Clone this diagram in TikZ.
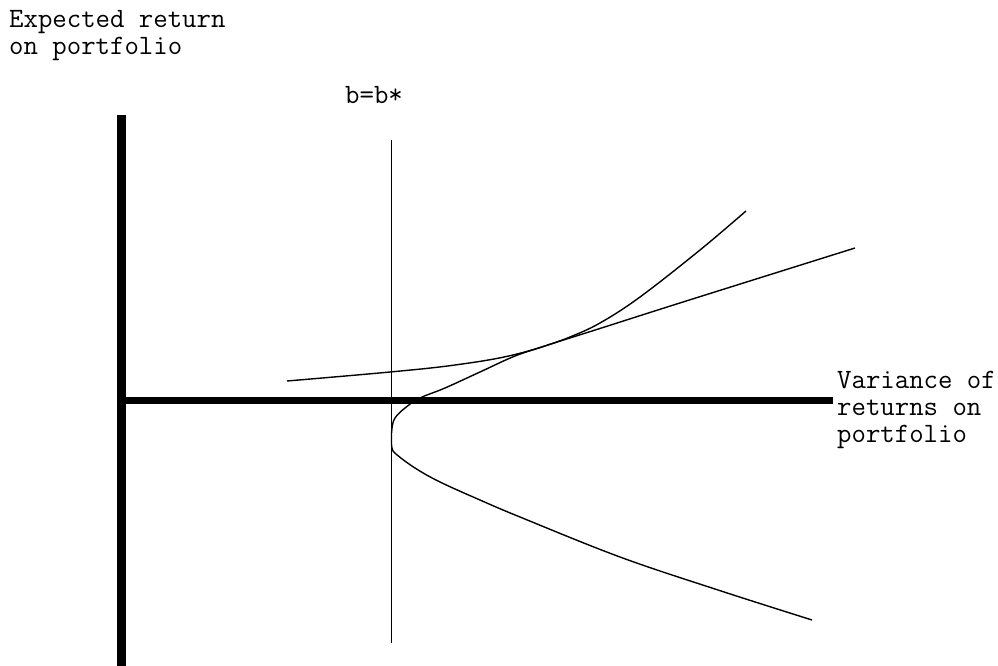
\documentclass[tikz,border=0pt]{standalone}
\usepackage{fontspec}
\begin{document}
\begin{tikzpicture}[x=1pt,y=-1pt,
  lbl/.style={font=\ttfamily\fontsize{28}{27}\selectfont, inner sep=0pt, align=left, anchor=base west},
  axis/.style={line width=8pt, line cap=butt},
  thin/.style={line width=1.5pt},
  crv/.style={line width=1.4pt, smooth, tension=0.6}]
\useasboundingbox (0,0) rectangle (998,666);
\fill[white] (0,0) rectangle (998,666);
% axes
\coordinate (ytop) at (121,115);
\coordinate (ybot) at (121,666);
\coordinate (xl) at (117,400);
\coordinate (xr) at (833,400);
\draw[axis, line width=9pt] (ytop) -- (ybot);
\draw[axis, line width=7pt] (xl) -- (xr);
% b = b* line
\coordinate (btop) at (391.5,140);
\coordinate (bbot) at (391.5,643);
\draw[thin] (btop) -- (bbot);
% tangent curve
\draw[crv] plot coordinates {(287,381) (390,372) (455,365) (513,355) (573,337) (683,302) (855,248)};
% frontier
\draw[crv] plot coordinates {(746,211) (700,250) (640,297) (600,323) (570,337) (545,346) (515,356) (480,372) (445,388) (420,398) (405,408) (395,418) (392,428) (391.5,438) (392,448) (396,454) (415,468) (440,482) (480,500) (520,517) (620,557) (718,590) (812,620)};
% labels
\node[lbl] (ylab) at (9,55) {Expected return\\on portfolio};
\node[lbl] (blab) at (345,104) {b=b*};
\node[lbl] (xlab) at (837,442) {Variance of\\returns on\\portfolio};
\end{tikzpicture}
\end{document}
